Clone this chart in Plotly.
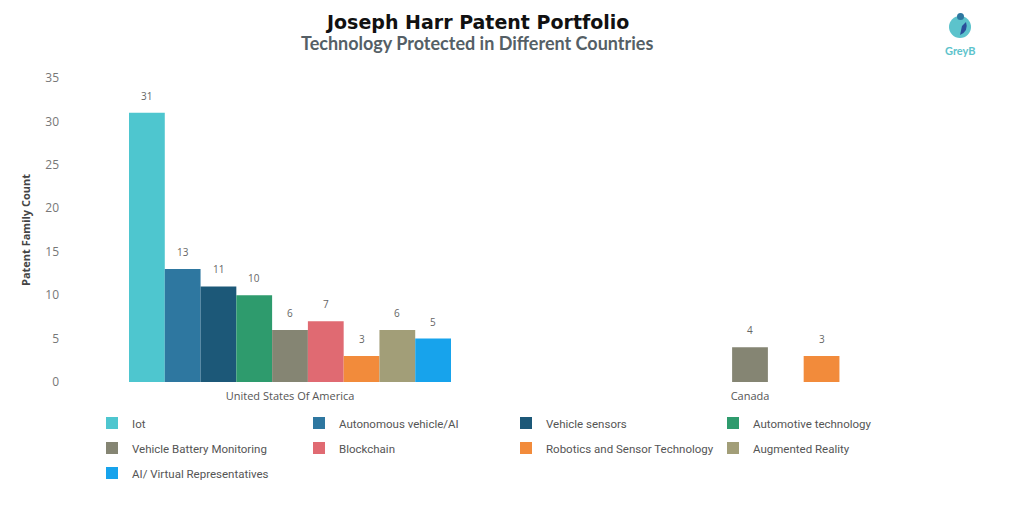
import plotly.graph_objects as go

countries = ["United States Of America", "Canada"]
series_names = [
    "Iot", "Autonomous vehicle/AI", "Vehicle sensors", "Automotive technology",
    "Vehicle Battery Monitoring", "Blockchain", "Robotics and Sensor Technology",
    "Augmented Reality", "AI/ Virtual Representatives",
]
usa_values = [31, 13, 11, 10, 6, 7, 3, 6, 5]
canada_values = [0, 0, 0, 0, 4, 0, 3, 0, 0]
colors = ["#4ec6cf", "#2e77a0", "#1c5878", "#2e9b6d", "#858573",
          "#e06a72", "#f28b3b", "#a29e78", "#17a3ec"]
y_ticks = [0, 5, 10, 15, 20, 25, 30, 35]

W, H = 1016, 519
ML, MR, MT, MB = 52, 44, 70, 145
plot_w = W - ML - MR
plot_h = H - MT - MB
BARGAP = 0.30
n = len(series_names)
bar_px = plot_w / len(countries) * (1 - BARGAP) / n

legend_ids = ["legend", "legend2", "legend3"]
fig = go.Figure()
annotations = []
for i, (name, u, c, col) in enumerate(zip(series_names, usa_values, canada_values, colors)):
    vals = [u, c]
    fig.add_trace(go.Bar(
        name=name, x=countries, y=vals,
        marker=dict(color=col, line=dict(width=0)),
        legend=legend_ids[i // 4],
    ))
    for cat, v in zip(countries, vals):
        if v:
            annotations.append(dict(
                x=cat, y=v, xref="x", yref="y", text=str(v), showarrow=False,
                xanchor="center", yanchor="bottom",
                xshift=(i - (n - 1) / 2) * bar_px, yshift=8,
                font=dict(size=10, color="#666666", family="Open Sans"),
            ))

row_y = [415, 440, 465]
legend_common = dict(
    orientation="h", xanchor="left", yanchor="middle",
    entrywidth=162, entrywidthmode="pixels",
    font=dict(size=11.5, color="#555555", family="Roboto"),
    itemclick=False, bgcolor="rgba(0,0,0,0)",
)
legend_x = (84 - ML) / plot_w
legends = {}
for lid, ry in zip(legend_ids, row_y):
    legends[lid] = dict(legend_common, x=legend_x, y=(MT + plot_h - ry) / plot_h)

fig.update_layout(
    width=W, height=H,
    barmode="group", bargap=BARGAP, bargroupgap=0,
    plot_bgcolor="white", paper_bgcolor="white",
    margin=dict(l=ML, r=MR, t=MT, b=MB, autoexpand=False),
    font=dict(family="Open Sans", color="#666666"),
    showlegend=True,
    xaxis=dict(showline=False, showgrid=False, ticks="", ticklabelstandoff=6,
               tickfont=dict(size=11, color="#555555")),
    yaxis=dict(range=[0, 35], tickvals=y_ticks, showgrid=False, showline=False,
               zeroline=False, ticks="", tickfont=dict(size=12, color="#777777"),
               title=dict(text="<b>Patent Family Count</b>",
                          font=dict(size=11, color="#444444"), standoff=12)),
    **legends,
)

title_x = (469 - ML) / plot_w
annotations += [
    dict(text="<b>Joseph Harr Patent Portfolio</b>", xref="paper", yref="paper",
         x=title_x, y=1, yshift=MT - 1, xanchor="center", yanchor="top", showarrow=False,
         font=dict(size=19, color="#111111", family="DejaVu Sans")),
    dict(text="<b>Technology Protected in Different Countries</b>", xref="paper",
         yref="paper", x=title_x, y=1, yshift=35, xanchor="center", yanchor="middle",
         showarrow=False, font=dict(size=18, color="#555f66", family="Lato")),
    dict(text="<b>GreyB</b>", xref="paper", yref="paper", x=(952 - ML) / plot_w, y=1,
         yshift=28, xanchor="center", yanchor="middle", showarrow=False,
         font=dict(size=11, color="#5cc3cc", family="Lato")),
]
fig.update_layout(annotations=annotations)

logo_x = (952 - ML) / plot_w
fig.add_shape(type="circle", xref="paper", yref="paper", xsizemode="pixel",
              ysizemode="pixel", xanchor=logo_x, yanchor=1,
              x0=-11, x1=11, y0=40, y1=62, fillcolor="#5cc3cc", line=dict(width=0))
fig.add_shape(type="circle", xref="paper", yref="paper", xsizemode="pixel",
              ysizemode="pixel", xanchor=logo_x, yanchor=1,
              x0=-3, x1=4, y0=58, y1=65, fillcolor="#2e77a0", line=dict(width=0))
fig.add_shape(type="path", xref="paper", yref="paper", xsizemode="pixel",
              ysizemode="pixel", xanchor=logo_x, yanchor=1,
              path="M 0,43 Q 9,47 6,56 L 2,52 Z", fillcolor="#2a4f9a", line=dict(width=0))

fig.write_html("out.html")
